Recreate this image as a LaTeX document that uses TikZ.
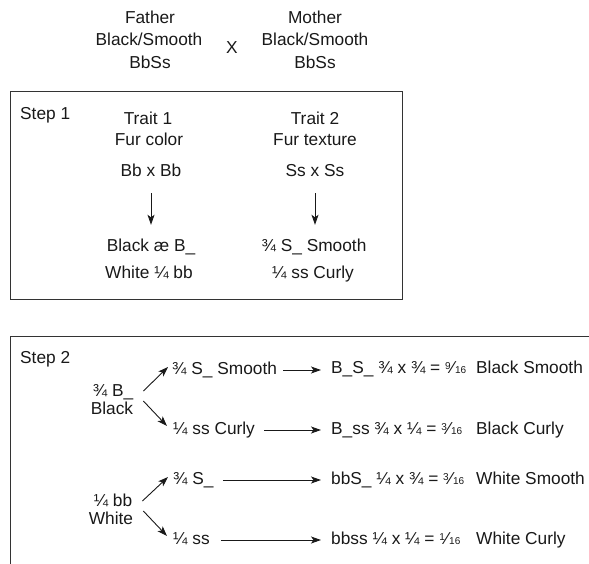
\documentclass[tikz,border=0pt]{standalone}
\usepackage{fontspec}
\setmainfont{Liberation Sans}
\usetikzlibrary{arrows.meta}
\newcommand{\myfr}[2]{\raisebox{0.45ex}{\fontsize{10}{10}\selectfont #1}\kern0.04em\textfractionsolidus\kern0.04em{\fontsize{10}{10}\selectfont #2}}
\begin{document}
\begin{tikzpicture}[x=1pt,y=-1pt,
  lbl/.style={inner sep=0pt,font=\fontsize{17.3}{21}\selectfont,text height=12.5pt,text depth=3.5pt,text=black!90},
  arr/.style={-{Stealth[length=10pt,width=7pt,inset=2.5pt]},line width=0.9pt,black!90},
  frame/.style={line width=1pt,black!80}]
\useasboundingbox (0,0) rectangle (589,564);
% parents
\node[lbl] (fa1) at (150,19) {Father};
\node[lbl] (fa2) at (149,41) {Black/Smooth};
\node[lbl] (fa3) at (150,64) {BbSs};
\node[lbl] (cross) at (232,49) {X};
\node[lbl] (mo1) at (315,19) {Mother};
\node[lbl] (mo2) at (315,41) {Black/Smooth};
\node[lbl] (mo3) at (315,64) {BbSs};
% step 1
\draw[frame] (10,92) rectangle (402,299);
\node[lbl,anchor=west] (step1) at (20,115) {Step 1};
\node[lbl] (t1) at (148,120) {Trait 1};
\node[lbl] (fc) at (149,141) {Fur color};
\node[lbl] (bb) at (151,172) {Bb x Bb};
\node[lbl] (blk1) at (151,247) {Black æ B\_};
\node[lbl] (wht1) at (149,274) {White ¼ bb};
\node[lbl] (t2) at (315,120) {Trait 2};
\node[lbl] (ft) at (315,141) {Fur texture};
\node[lbl] (ss) at (315,172) {Ss x Ss};
\node[lbl] (smo1) at (314,247) {¾ S\_ Smooth};
\node[lbl] (cur1) at (313,274) {¼ ss Curly};
\draw[arr] ([yshift=-13pt]bb.south) -- ([yshift=14pt]blk1.north -| bb.south);
\draw[arr] ([yshift=-13pt]ss.south) -- ([yshift=14pt]smo1.north -| ss.south);
% step 2
\draw[frame] (10,564) -- (10,336) -- (589,336);
\node[lbl,anchor=west] (step2) at (20,359) {Step 2};
\node[lbl] (qb) at (113,392) {¾ B\_};
\node[lbl] (bk) at (112,410) {Black};
\node[lbl,anchor=west] (r1a) at (172,370) {¾ S\_ Smooth};
\node[lbl,anchor=west] (r1b) at (331,369) {B\_S\_ ¾ x ¾ = \myfr{9}{16}};
\node[lbl,anchor=west] (r1c) at (476,369) {Black Smooth};
\node[lbl,anchor=west] (r2a) at (173,430) {¼ ss Curly};
\node[lbl,anchor=west] (r2b) at (331,430) {B\_ss ¾ x ¼ = \myfr{3}{16}};
\node[lbl,anchor=west] (r2c) at (476,430) {Black Curly};
\node[lbl] (qw) at (113,502) {¼ bb};
\node[lbl] (wh) at (111,520) {White};
\node[lbl,anchor=west] (r3a) at (173,480) {¾ S\_};
\node[lbl,anchor=west] (r3b) at (331,480) {bbS\_ ¼ x ¾ = \myfr{3}{16}};
\node[lbl,anchor=west] (r3c) at (476,480) {White Smooth};
\node[lbl,anchor=west] (r4a) at (173,540) {¼ ss};
\node[lbl,anchor=west] (r4b) at (331,540) {bbss ¼ x ¼ = \myfr{1}{16}};
\node[lbl,anchor=west] (r4c) at (476,540) {White Curly};
% diagonal arrows
\draw[arr] ([shift={(10,-1)}]qb.east) -- ([shift={(-4,-3)}]r1a.west);
\draw[arr] ([shift={(10,-9)}]bk.east) -- ([shift={(-6,-4)}]r2a.west);
\draw[arr] ([shift={(10,-1)}]qw.east) -- ([shift={(-5,-3)}]r3a.west);
\draw[arr] ([shift={(10,-9)}]wh.east) -- ([shift={(-6,-4)}]r4a.west);
% horizontal arrows
\draw[arr] ([xshift=6pt]r1a.east) -- ([xshift=-10pt]r1b.west |- r1a.east);
\draw[arr] ([xshift=9pt]r2a.east) -- ([xshift=-10pt]r2b.west |- r2a.east);
\draw[arr] ([xshift=9pt]r3a.east) -- ([xshift=-10pt]r3b.west |- r3a.east);
\draw[arr] ([xshift=11pt]r4a.east) -- ([xshift=-10pt]r4b.west |- r4a.east);
\end{tikzpicture}
\end{document}
